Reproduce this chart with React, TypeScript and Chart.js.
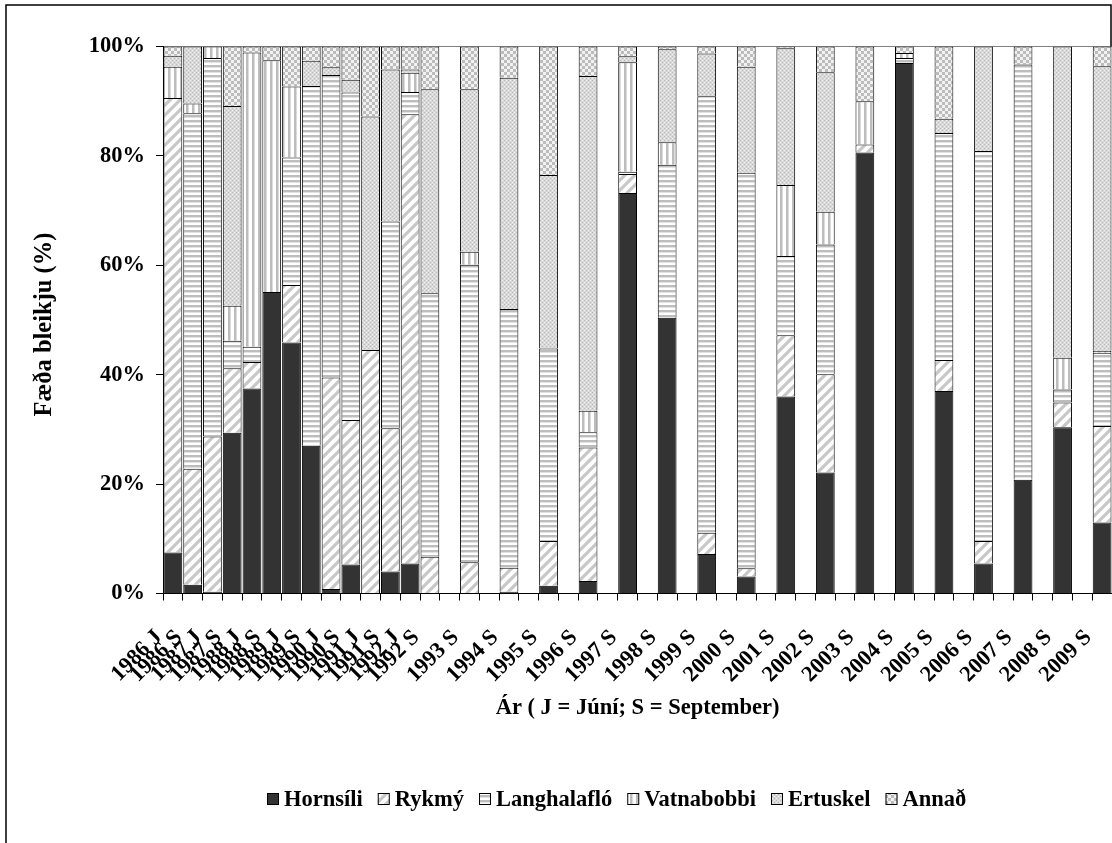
import React, { useEffect, useRef } from 'react';
import { Chart, registerables } from 'chart.js';

Chart.register(...registerables);

// Sampling periods (J = June, S = September)
const periods = [
  '1986 J', '1986 S', '1987 J', '1987 S', '1988 J', '1988 S', '1989 J', '1989 S',
  '1990 J', '1990 S', '1991 J', '1991 S', '1992 J', '1992 S',
  '1993 S', '1994 S', '1995 S', '1996 S', '1997 S', '1998 S', '1999 S', '2000 S',
  '2001 S', '2002 S', '2003 S', '2004 S', '2005 S', '2006 S', '2007 S', '2008 S', '2009 S',
];

// Diet composition (% of food) per period
const hornsili = [7.5, 1.6, 0.3, 29.4, 37.5, 55.1, 45.9, 27.0, 0.8, 5.3, 0, 4.0, 5.5, 0.1,
  0, 0.3, 1.4, 2.3, 73.2, 50.4, 7.2, 3.1, 36.0, 22.1, 80.6, 97.0, 37.0, 5.5, 20.8, 30.4, 13.0];
const rykmy = [83.1, 21.2, 28.4, 11.8, 4.8, 0, 10.5, 0, 38.7, 26.4, 44.5, 26.2, 82.1, 6.6,
  5.7, 4.4, 8.2, 24.4, 3.5, 0, 3.9, 1.5, 11.2, 18.0, 1.5, 0, 5.7, 4.1, 0, 4.5, 17.6];
const langhalaflo = [0, 65.0, 69.2, 5.0, 2.8, 0, 23.3, 65.8, 55.3, 59.9, 0, 37.8, 4.1, 48.2,
  54.4, 47.3, 35.2, 2.8, 0.4, 28.0, 79.8, 72.3, 14.5, 23.7, 0, 0.9, 41.5, 71.3, 75.9, 2.4, 13.4];
const vatnabobbi = [5.7, 1.8, 2.1, 6.4, 53.8, 42.4, 13.0, 0, 0, 0, 0, 0, 3.5, 0,
  2.4, 0, 0, 3.9, 20.0, 4.1, 0, 0, 13.0, 6.0, 7.9, 0.9, 0, 0, 0, 5.8, 0.4];
const ertuskel = [2.0, 10.4, 0, 36.5, 0, 0, 0, 4.6, 1.4, 2.3, 42.7, 27.8, 0.6, 37.3,
  29.7, 42.3, 31.7, 61.2, 1.1, 17.0, 7.8, 19.4, 25.0, 25.5, 0, 0, 2.6, 19.1, 0, 56.9, 52.0];
const annad = [1.7, 0, 0, 10.9, 1.1, 2.5, 7.3, 2.6, 3.8, 6.1, 12.8, 4.2, 4.2, 7.8,
  7.8, 5.7, 23.5, 5.4, 1.8, 0.5, 1.3, 3.7, 0.3, 4.7, 10.0, 1.2, 13.2, 0, 3.3, 0, 3.6];

const seriesNames = ['Hornsíli', 'Rykmý', 'Langhalafló', 'Vatnabobbi', 'Ertuskel', 'Annað'];
const seriesValues = [hornsili, rykmy, langhalaflo, vatnabobbi, ertuskel, annad];

// From 1993 on only September samples exist; each is preceded by an empty June column.
const firstSeptemberOnly = 14;

const yTicks = [0, 20, 40, 60, 80, 100];
const yTitle = 'Fæða bleikju (%)';
const xTitle = 'Ár ( J = Júní; S = September)';

const FONT = '"Liberation Serif", "Times New Roman", serif';

function tile(w: number, h: number, paint: (c: CanvasRenderingContext2D) => void): CanvasPattern {
  const cv = document.createElement('canvas');
  cv.width = w;
  cv.height = h;
  const c = cv.getContext('2d')!;
  paint(c);
  return c.createPattern(cv, 'repeat')!;
}

function makeFills(): (string | CanvasPattern)[] {
  const solid = '#333333';
  const diagonal = tile(10, 10, (c) => {
    c.fillStyle = '#ffffff';
    c.fillRect(0, 0, 10, 10);
    c.strokeStyle = '#c8c8c8';
    c.lineWidth = 3.2;
    c.lineCap = 'square';
    for (const o of [-10, 0, 10]) {
      c.beginPath();
      c.moveTo(o - 1, 11);
      c.lineTo(o + 11, -1);
      c.stroke();
    }
  });
  const horizontal = tile(4, 5, (c) => {
    c.fillStyle = '#ffffff';
    c.fillRect(0, 0, 4, 5);
    c.fillStyle = '#bdbdbd';
    c.fillRect(0, 0, 4, 2);
    c.fillStyle = '#e2e2e2';
    c.fillRect(0, 2, 4, 1);
  });
  const vertical = tile(6, 4, (c) => {
    c.fillStyle = '#ffffff';
    c.fillRect(0, 0, 6, 4);
    c.fillStyle = '#bdbdbd';
    c.fillRect(0, 0, 2, 4);
    c.fillStyle = '#dcdcdc';
    c.fillRect(2, 0, 1, 4);
  });
  const dotted = tile(4, 4, (c) => {
    c.fillStyle = '#d9d9d9';
    c.fillRect(0, 0, 4, 4);
    c.fillStyle = '#b9b9b9';
    c.fillRect(0, 0, 1, 1);
    c.fillRect(2, 2, 1, 1);
    c.fillStyle = '#efefef';
    c.fillRect(2, 0, 1, 1);
    c.fillRect(0, 2, 1, 1);
  });
  const checker = tile(6, 6, (c) => {
    c.fillStyle = '#f2f2f2';
    c.fillRect(0, 0, 6, 6);
    c.fillStyle = '#bcbcbc';
    c.fillRect(0, 0, 3, 3);
    c.fillRect(3, 3, 3, 3);
  });
  return [solid, diagonal, horizontal, vertical, dotted, checker];
}

export default function App() {
  const canvasRef = useRef<HTMLCanvasElement | null>(null);

  useEffect(() => {
    const canvas = canvasRef.current;
    if (!canvas) return;

    // Lay the periods out on the category slots, with blank June slots after 1992.
    const slotLabels: string[] = [];
    const slotOf: number[] = [];
    periods.forEach((p, i) => {
      if (i >= firstSeptemberOnly) slotLabels.push('');
      slotOf.push(slotLabels.length);
      slotLabels.push(p);
    });

    // 100 % stacking: each period is scaled to its own total.
    const totals = periods.map((_, i) => seriesValues.reduce((s, arr) => s + arr[i], 0));
    const fills = makeFills();

    const datasets = seriesNames.map((name, k) => {
      const data: (number | null)[] = slotLabels.map(() => null);
      periods.forEach((_, i) => {
        data[slotOf[i]] = (seriesValues[k][i] / totals[i]) * 100;
      });
      return {
        label: name,
        data,
        backgroundColor: fills[k],
        borderColor: '#000000',
        borderWidth: 1,
        barPercentage: 0.95,
        categoryPercentage: 1,
      };
    });

    const tickFont = { family: FONT, size: 22.5, weight: 'bold' as const };

    const legendAndFrame = {
      id: 'legendAndFrame',
      afterDraw(chart: Chart) {
        const ctx = chart.ctx;
        const area = chart.chartArea;
        ctx.save();
        // outer frame
        ctx.strokeStyle = '#000000';
        ctx.lineWidth = 1.5;
        ctx.beginPath();
        ctx.moveTo(6, chart.height);
        ctx.lineTo(6, 5);
        ctx.lineTo(chart.width - 1, 5);
        ctx.lineTo(chart.width - 1, area.top);
        ctx.stroke();

        // vertical axis title
        ctx.save();
        ctx.translate(45, 324.5);
        ctx.rotate(-Math.PI / 2);
        ctx.font = `bold 24.5px ${FONT}`;
        ctx.fillStyle = '#000000';
        ctx.textAlign = 'center';
        ctx.textBaseline = 'middle';
        ctx.fillText(yTitle, 0, 0);
        ctx.restore();

        // legend row
        ctx.font = `bold 22.5px ${FONT}`;
        ctx.textBaseline = 'alphabetic';
        ctx.textAlign = 'left';
        let x = 267;
        const yMid = 799;
        chart.data.datasets.forEach((ds: any) => {
          ctx.fillStyle = ds.backgroundColor;
          ctx.fillRect(x, yMid - 6, 12, 12);
          ctx.strokeStyle = '#000000';
          ctx.lineWidth = 1;
          ctx.strokeRect(x + 0.5, yMid - 5.5, 11, 11);
          x += 12 + 5;
          ctx.fillStyle = '#000000';
          ctx.fillText(ds.label, x, 806);
          x += ctx.measureText(ds.label).width + 15;
        });
        ctx.restore();
      },
    };

    const chart = new Chart(canvas, {
      type: 'bar',
      data: { labels: slotLabels, datasets },
      options: {
        animation: false,
        responsive: false,
        maintainAspectRatio: false,
        layout: { padding: { top: 46.5, left: 0, right: 0, bottom: 121.5 } },
        plugins: {
          legend: { display: false },
          tooltip: { enabled: false },
        },
        scales: {
          x: {
            stacked: true,
            offset: true,
            grid: {
              display: true,
              drawOnChartArea: false,
              offset: true,
              tickLength: 7,
              tickColor: '#000000',
            },
            border: { color: '#000000', width: 1 },
            ticks: {
              autoSkip: false,
              minRotation: 45,
              maxRotation: 45,
              padding: 24,
              labelOffset: -14,
              color: '#000000',
              font: tickFont,
            },
            title: {
              display: true,
              text: xTitle,
              color: '#000000',
              font: tickFont,
              padding: { top: 0, bottom: 0 },
            },
            afterFit: (s: any) => {
              s.height = 128;
              s.paddingLeft = 0;
              s.paddingRight = 0;
            },
          },
          y: {
            stacked: true,
            min: 0,
            max: 100,
            afterBuildTicks: (s: any) => {
              s.ticks = yTicks.map((v) => ({ value: v }));
            },
            ticks: {
              callback: (v: any) => `${v}%`,
              padding: 11,
              color: '#000000',
              font: tickFont,
            },
            grid: {
              drawOnChartArea: true,
              color: (c: any) => (c.tick && c.tick.value === 100 ? '#808080' : 'rgba(0,0,0,0)'),
              tickColor: '#000000',
              tickLength: 7,
            },
            border: { color: '#000000', width: 1 },
            afterFit: (s: any) => {
              s.width = 163;
              s.paddingTop = 0;
              s.paddingBottom = 0;
            },
          },
        },
      },
      plugins: [legendAndFrame],
    });

    return () => chart.destroy();
  }, []);

  return (
    <div style={{ position: 'absolute', left: 0, top: 0, width: 1112, height: 843, background: '#ffffff' }}>
      <canvas ref={canvasRef} width={1112} height={843} style={{ display: 'block', width: 1112, height: 843 }} />
    </div>
  );
}
